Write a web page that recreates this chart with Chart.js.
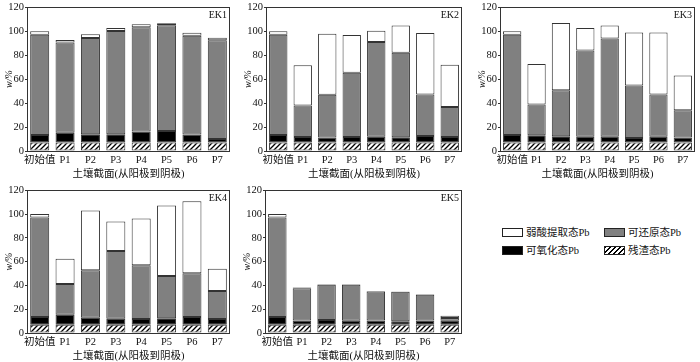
<!DOCTYPE html>
<html>
<head>
<meta charset="utf-8">
<script src="https://cdn.jsdelivr.net/npm/chart.js@4/dist/chart.umd.min.js"></script>
<style>
  html, body { margin:0; padding:0; background:#fff; }
  body { width:700px; height:362px; position:relative; overflow:hidden; font-family:"Liberation Serif","Noto Sans CJK SC",serif; }
  canvas { position:absolute; }
  .lg { position:absolute; font-size:10.5px; line-height:12px; color:#111; white-space:nowrap; }
  .sw { display:inline-block; width:19px; height:7px; border:1px solid #222; vertical-align:middle; margin-right:3px; position:relative; top:-1px; }
</style>
</head>
<body>
<canvas id="c1"></canvas>
<canvas id="c2"></canvas>
<canvas id="c3"></canvas>
<canvas id="c4"></canvas>
<canvas id="c5"></canvas>

<div class="lg" style="left:502px; top:227px;"><span class="sw" style="background:#fff"></span>弱酸提取态Pb</div>
<div class="lg" style="left:604px; top:227px;"><span class="sw" style="background:#808080"></span>可还原态Pb</div>
<div class="lg" style="left:502px; top:245px;"><span class="sw" style="background:#000"></span>可氧化态Pb</div>
<div class="lg" style="left:604px; top:245px;"><span class="sw" style="background:repeating-linear-gradient(-45deg,#000 0 1.3px,#fff 1.3px 3.5px)"></span>残渣态Pb</div>

<script>
// ---------------- DATA ----------------
const categories = ['初始值','P1','P2','P3','P4','P5','P6','P7'];
const seriesNames = ['残渣态Pb','可氧化态Pb','可还原态Pb','弱酸提取态Pb'];
const yTicks = [0,20,40,60,80,100,120];
const xTitle = '土壤截面(从阳极到阴极)';
const yTitle = 'w/%';

// segment heights (bottom to top): residual, oxidizable, reducible, weak-acid
const ek1Residual  = [7,7,7,7,7,7,7,7];
const ek1Oxidizable= [6.4,8.3,7,7,9.2,9.7,6.7,3];
const ek1Reducible = [83.7,75.4,80.3,86.2,87.1,88.3,82.6,82.4];
const ek1WeakAcid  = [2.9,1.9,3.1,2.5,2.5,1.6,2.5,2.2];

const ek2Residual  = [7,7,7,7,7,7,7,7];
const ek2Oxidizable= [6.4,4.7,4.2,4.7,5,4.4,5.6,4.7];
const ek2Reducible = [83.7,26.3,35.7,53.6,79,70.6,34.6,25.1];
const ek2WeakAcid  = [2.9,33.7,51.1,31.5,9.5,22.7,51.3,35.2];

const ek3Residual  = [7,7,7,7,7,7,7,7];
const ek3Oxidizable= [6.4,6.1,5.3,5,5,3.9,5,4.2];
const ek3Reducible = [83.7,25.7,38.5,72,82,43.8,35.2,22.8];
const ek3WeakAcid  = [2.9,33.8,56.1,18.7,10.8,44.3,51.8,29];

const ek4Residual  = [7,7,7,7,7,7,7,7];
const ek4Oxidizable= [6.4,8.3,5.8,5,4.7,5.3,6.4,4.7];
const ek4Reducible = [83.7,26,39.9,56.9,45.2,35.7,36.8,23.7];
const ek4WeakAcid  = [2.9,21.2,50.3,24.9,39.4,59.2,60.6,18.7];

const ek5Residual  = [7,7,7,7,7,7,7,7];
const ek5Oxidizable= [6.4,3.6,3.9,3.3,3.6,2.8,3.6,3.3];
const ek5Reducible = [83.7,27.1,29.6,30.2,24.3,24.8,21.5,2.3];
const ek5WeakAcid  = [2.9,0.5,0.5,0.5,0.5,0.3,0.5,1.9];

// ---------------- STYLE ----------------
const FONT = '"Liberation Serif","Noto Sans CJK SC",serif';

function hatch() {
  const c = document.createElement('canvas');
  c.width = 5; c.height = 5;
  const x = c.getContext('2d');
  x.fillStyle = '#fff'; x.fillRect(0,0,5,5);
  x.strokeStyle = '#000'; x.lineWidth = 1.3;
  x.beginPath();
  x.moveTo(-1,6); x.lineTo(6,-1);
  x.moveTo(-1,1); x.lineTo(1,-1);
  x.moveTo(4,6); x.lineTo(6,4);
  x.stroke();
  return x.createPattern(c,'repeat');
}
const hatchPat = hatch();
const fills = [hatchPat, '#000', '#808080', '#fff'];

const framePlugin = {
  id:'frame',
  afterDraw(chart, args, opts) {
    const {ctx, chartArea:a} = chart;
    ctx.save();
    ctx.strokeStyle = '#333'; ctx.lineWidth = 1;
    ctx.strokeRect(Math.round(a.left)+0.5, Math.round(a.top)+0.5, Math.round(a.right-a.left)-1, Math.round(a.bottom-a.top));
    ctx.fillStyle = '#111';
    ctx.font = '10px ' + FONT;
    ctx.textAlign = 'right'; ctx.textBaseline = 'top';
    ctx.fillText(opts.label, a.right - 3, a.top + 3);
    ctx.restore();
  }
};

function makeChart(id, plot, label, data) {
  const padTop = 7, yW = 27, xH = 31, padR = 3;
  const cv = document.getElementById(id);
  const w = (plot.r - plot.l) + yW + padR;
  const h = (plot.b - plot.t) + padTop + xH;
  cv.width = w; cv.height = h;
  cv.style.left = (plot.l - yW) + 'px';
  cv.style.top = (plot.t - padTop) + 'px';
  cv.style.width = w + 'px'; cv.style.height = h + 'px';
  new Chart(cv, {
    type:'bar',
    data:{
      labels: categories,
      datasets: data.map((d,i)=>({
        label: seriesNames[i],
        data: d,
        backgroundColor: fills[i],
        borderColor: '#333',
        borderWidth: 1,
        borderSkipped: false,
        barPercentage: 0.75,
        categoryPercentage: 1.0
      }))
    },
    options:{
      responsive:false,
      animation:false,
      devicePixelRatio:1,
      layout:{ padding:{ top:padTop, right:padR, left:0, bottom:0 } },
      plugins:{ legend:{display:false}, tooltip:{enabled:false}, frame:{label} },
      scales:{
        x:{
          stacked:true,
          grid:{ display:false, drawTicks:false },
          border:{ display:false },
          ticks:{ color:'#111', font:{ family:FONT, size:10.5 }, padding:3, maxRotation:0, autoSkip:false },
          title:{ display:true, text:xTitle, color:'#111', font:{ family:FONT, size:10.5 }, padding:{top:0,bottom:1} },
          afterFit(s){ s.height = xH; }
        },
        y:{
          stacked:true,
          min:0, max:120,
          afterBuildTicks(s){ s.ticks = yTicks.map(v=>({value:v})); },
          grid:{ display:true, drawOnChartArea:false, drawTicks:true, tickLength:2, color:'#333' },
          border:{ display:false },
          ticks:{ color:'#111', font:{ family:FONT, size:10.5 }, padding:1 },
          title:{ display:true, text:yTitle, color:'#111', font:{ family:FONT, size:10, style:'italic' }, padding:{top:3,bottom:0} },
          afterFit(s){ s.width = yW; }
        }
      }
    },
    plugins:[framePlugin]
  });
}

makeChart('c1', {l:27, r:230, t:7,   b:151}, 'EK1', [ek1Residual, ek1Oxidizable, ek1Reducible, ek1WeakAcid]);
makeChart('c2', {l:266,r:462, t:7,   b:151}, 'EK2', [ek2Residual, ek2Oxidizable, ek2Reducible, ek2WeakAcid]);
makeChart('c3', {l:500,r:695, t:7,   b:151}, 'EK3', [ek3Residual, ek3Oxidizable, ek3Reducible, ek3WeakAcid]);
makeChart('c4', {l:27, r:230, t:190, b:333}, 'EK4', [ek4Residual, ek4Oxidizable, ek4Reducible, ek4WeakAcid]);
makeChart('c5', {l:265,r:462, t:190, b:333}, 'EK5', [ek5Residual, ek5Oxidizable, ek5Reducible, ek5WeakAcid]);
</script>
</body>
</html>
